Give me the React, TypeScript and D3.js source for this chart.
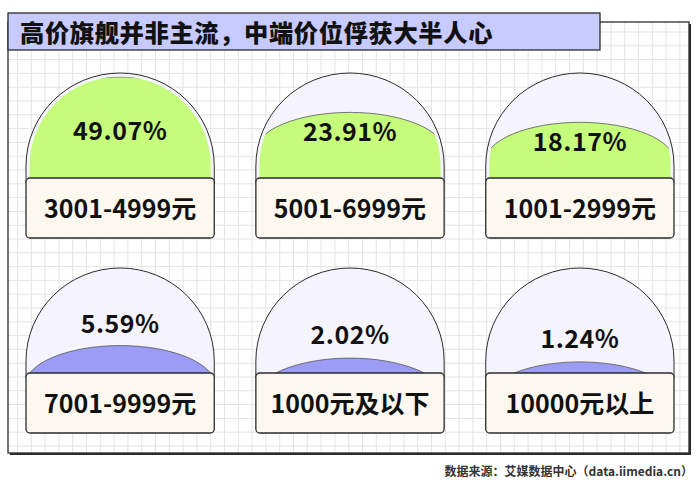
import React from "react";
import * as d3 from "d3";

const title = "高价旗舰并非主流，中端价位俘获大半人心";
const source = "数据来源：艾媒数据中心（data.iimedia.cn）";
const categories = ["3001-4999元", "5001-6999元", "1001-2999元", "7001-9999元", "1000元及以下", "10000元以上"];
const shares = [49.07, 23.91, 18.17, 5.59, 2.02, 1.24];

// layout only (baseline of percentage label above the label box)
const pctLift = [38, 37, 27, 40, 29, 25];

const W = 700;
const H = 493;
const FONT = "'Noto Sans CJK SC', 'Noto Sans', sans-serif";
const INK = "#2b2b2b";

export default function App() {
  const colX = d3.scaleBand<number>().domain([0, 1, 2]).range([26, 674]).paddingInner(0.181);
  const rowY = d3.scalePoint<number>().domain([0, 1]).range([178, 373]);
  const level = d3.scalePow().exponent(0.6).domain([0, d3.max(shares) as number]).range([0, 101]);
  const fillColor = d3.scaleThreshold<number, string>().domain([10]).range(["#9c9cf6", "#c5fc7b"]);

  const bw = colX.bandwidth();
  const boxH = 60;
  const domeH = 105;

  const frame = { x: 8, y: 22, w: 681, h: 431 };
  const step = 13.8;
  const vLines = d3.range(17.5, frame.x + frame.w, step);
  const hLines = d3.range(32, frame.y + frame.h, step);

  return (
    <svg width={W} height={H} style={{ display: "block", position: "absolute", left: 0, top: 0 }} fontFamily={FONT}>
      <defs>
        <clipPath id="frameClip">
          <rect x={frame.x} y={frame.y} width={frame.w} height={frame.h} />
        </clipPath>
        {shares.map((v, i) => {
          const x0 = colX(i % 3) as number;
          const cx = x0 + bw / 2;
          const bt = rowY(Math.floor(i / 3)) as number;
          const cy = bt - 12;
          const rx = bw / 2 - 3.5;
          const ry = domeH - 12 - 3.5;
          return (
            <clipPath id={`dome${i}`} key={i}>
              <path d={`M${cx - rx},${bt + 20} L${cx - rx},${cy} A${rx},${ry} 0 0 1 ${cx + rx},${cy} L${cx + rx},${bt + 20} Z`} />
            </clipPath>
          );
        })}
      </defs>
      <rect width={W} height={H} fill="#ffffff" />
      {/* frame */}
      <rect x={frame.x + 2} y={frame.y + 2} width={frame.w} height={frame.h} fill={INK} />
      <rect x={frame.x} y={frame.y} width={frame.w} height={frame.h} fill="#ffffff" />
      <g clipPath="url(#frameClip)" stroke="#e4e4e4" strokeWidth={1}>
        {vLines.map((x, i) => (
          <line key={"v" + i} x1={x} x2={x} y1={frame.y} y2={frame.y + frame.h} />
        ))}
        {hLines.map((y, i) => (
          <line key={"h" + i} x1={frame.x} x2={frame.x + frame.w} y1={y} y2={y} />
        ))}
      </g>
      <rect x={frame.x} y={frame.y} width={frame.w} height={frame.h} fill="none" stroke={INK} strokeWidth={1.3} />

      {/* title bar */}
      <rect x={8} y={13} width={592} height={37} fill="#c7cafc" stroke={INK} strokeWidth={1.3} />
      <text x={20} y={42} fontSize={24.3} fontWeight={900} fill="#111" letterSpacing={0.6}>
        {title}
      </text>

      {/* cards */}
      {shares.map((v, i) => {
        const x0 = colX(i % 3) as number;
        const cx = x0 + bw / 2;
        const bt = rowY(Math.floor(i / 3)) as number;
        const cy = bt - 12;
        const rx = bw / 2;
        const ry = domeH - 12;
        const top = bt - level(v);
        const crx = bw / 2 + 1;
        const cry = 40;
        const domePath = `M${cx - rx},${bt + 5} L${cx - rx},${cy} A${rx},${ry} 0 0 1 ${cx + rx},${cy} L${cx + rx},${bt + 5} Z`;
        const fillPath = `M${cx - crx},${top + cry} A${crx},${cry} 0 0 1 ${cx + crx},${top + cry} L${cx + crx},${bt + 10} L${cx - crx},${bt + 10} Z`;
        return (
          <g key={i}>
            <path d={domePath} fill="#f5f3fc" stroke={INK} strokeWidth={1} />
            <path d={fillPath} fill={fillColor(v)} stroke="#555" strokeWidth={0.8} clipPath={`url(#dome${i})`} />
            <text x={cx} y={bt - pctLift[i]} textAnchor="middle" fontSize={25} fontWeight={700} fill="#111" letterSpacing={0.5}>
              {v.toFixed(2) + "%"}
            </text>
            <rect x={x0} y={bt} width={bw} height={boxH} rx={4} fill="#fcf8f0" stroke={INK} strokeWidth={1.3} />
            <text x={cx} y={bt + boxH / 2 + 10} textAnchor="middle" fontSize={25} fontWeight={700} fill="#111">
              {categories[i]}
            </text>
          </g>
        );
      })}

      <text x={693} y={476} textAnchor="end" fontSize={12} fontWeight={700} fill="#333">
        {source}
      </text>
    </svg>
  );
}
